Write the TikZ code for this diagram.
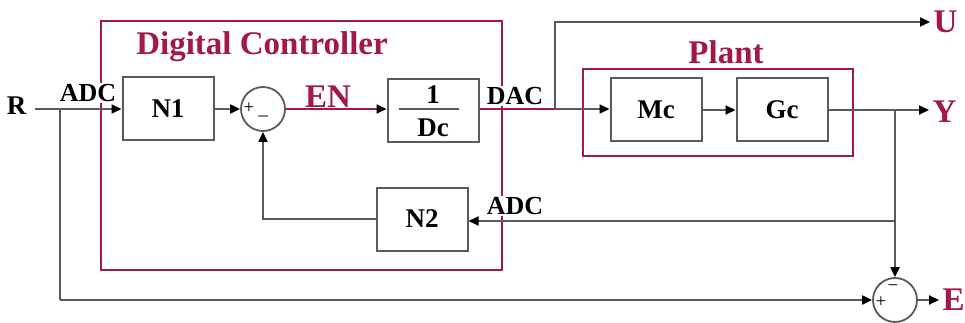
\documentclass[tikz,border=0pt]{standalone}
\usepackage{fontspec}
\setmainfont{Liberation Serif}
\usetikzlibrary{arrows.meta}
\definecolor{dred}{HTML}{A3174A}
\definecolor{lgrey}{HTML}{5A5A5A}
\begin{document}
\begin{tikzpicture}[x=1pt,y=-1pt,
  blk/.style={draw=lgrey, line width=2pt, minimum width=91pt, minimum height=63pt, inner sep=0pt},
  bfl/.style={font=\fontsize{27}{30}\selectfont\bfseries},
  lbl/.style={font=\fontsize{26}{30}\selectfont\bfseries, fill=white, inner sep=1pt},
  sumc/.style={circle, draw=lgrey, line width=1.8pt, minimum size=44pt, inner sep=0pt},
  wire/.style={draw=lgrey, line width=2pt},
  arr/.style={wire, -{Triangle[length=10pt,width=9pt,color=black]}},
  redwire/.style={draw=dred, line width=2pt},
  redbox/.style={draw=dred, line width=1.8pt},
  title/.style={text=dred, font=\fontsize{33}{36}\selectfont\bfseries},
  sgn/.style={font=\fontsize{19}{19}\selectfont, inner sep=0pt},
]
\useasboundingbox (0,0) rectangle (965,323);
% enclosures
\draw[redbox] (101,21) rectangle (502,270);
\draw[redbox] (583,69) rectangle (853,156);
\node[title] (dctitle) at (262,47) {Digital Controller};
\node[title] (ptitle) at (726,52) {Plant};
% labels (white background hides the enclosure edge)
\node[bfl, anchor=east] (r) at (30,106) {R};
\node[lbl] (adc1) at (88,93) {ADC};
\node[title] (en) at (328,97) {EN};
\node[lbl] (dac) at (515,96) {DAC};
\node[lbl] (adc2) at (515,206) {ADC};
\node[title, anchor=west] (u) at (930,22) {U};
\node[title, anchor=west] (y) at (929,112) {Y};
\node[title, anchor=west] (e) at (939,300) {E};
% blocks
\node[blk,bfl] (n1) at (168,109) {N1};
\node[sumc] (s1) at (263,109) {};
\node[sgn] (s1p) at (249,108) {+};
\node[sgn] (s1m) at (263,116) {\_};
\node[blk] (dc) at (433,111) {};
\node[bfl] (one) at (433,95) {1};
\node[bfl] (dcl) at (433,128) {Dc};
\draw[lgrey, line width=1.8pt] (399,109) -- (459,109);
\node[blk,bfl] (mc) at (656,110) {Mc};
\node[blk,bfl] (gc) at (782,110) {Gc};
\node[blk,bfl] (n2) at (422,219) {N2};
\node[sumc] (s2) at (895,300) {};
\node[sgn] (s2p) at (881,302) {+};
\node[sgn] (s2m) at (893,288) {\textminus};
% coordinates
\coordinate (rin) at (35,109);
\coordinate (b1) at (60,109);
\coordinate (j1) at (555,109);
\coordinate (b2) at (895,110);
% connectors
\draw[arr] (rin) -- (n1.west);
\draw[wire] (b1) -- (b1 |- s2.west);
\draw[arr] (b1 |- s2.west) -- (s2.west);
\draw[arr] (n1.east) -- (s1.west);
\draw[redwire, -{Triangle[length=10pt,width=9pt,color=black]}] (s1.east) -- (s1.east -| dc.west);
\draw[redwire] (dc.east |- j1) -- (j1);
\draw[arr] (j1) -- (j1 -| mc.west);
\draw[arr] (j1) |- (u.west);
\draw[arr] (mc.east) -- (gc.west);
\draw[arr] (gc.east) -- (gc.east -| y.west);
\draw[arr] (b2) -- (s2.north);
\draw[arr] (b2 |- 0,221) -- (n2.east |- 0,221);
\draw[arr] (n2.west) -| (s1.south);
\draw[arr] (s2.east) -- (e.west);
\end{tikzpicture}
\end{document}
